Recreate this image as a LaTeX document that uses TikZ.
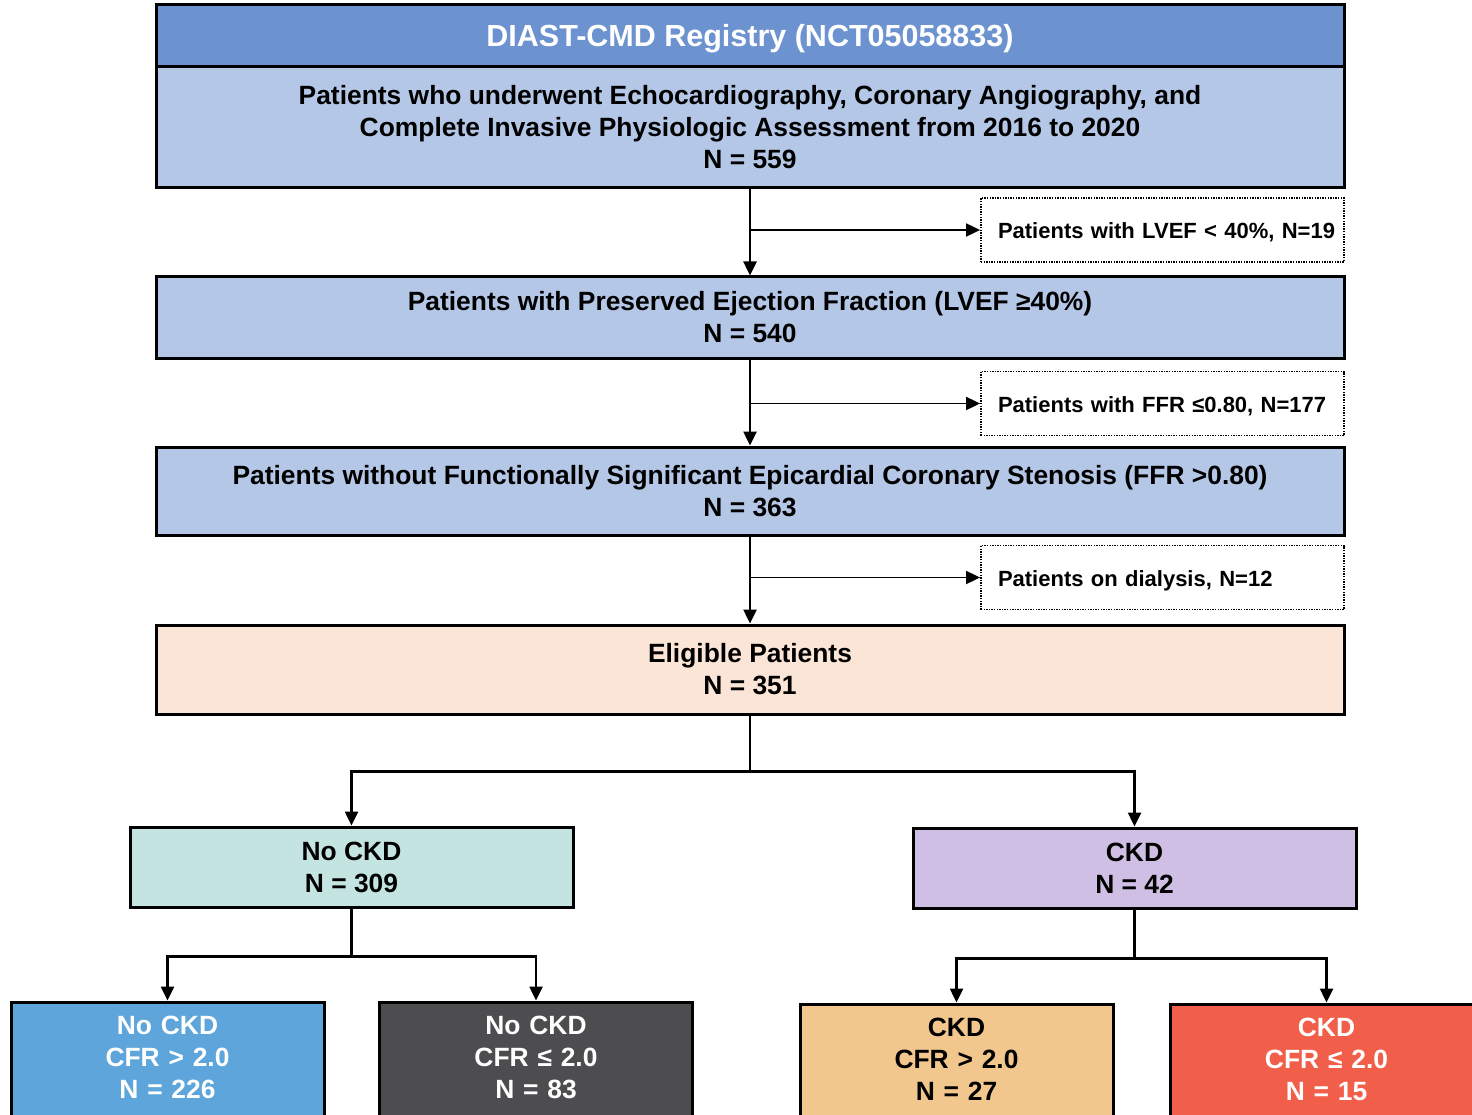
\documentclass[tikz,border=0pt]{standalone}
\usepackage{fontspec}
\setmainfont{Liberation Sans}
\usepackage{xcolor}
\usetikzlibrary{arrows.meta,positioning}
\definecolor{regblue}{RGB}{108,147,207}
\definecolor{flowblue}{RGB}{180,199,231}
\definecolor{eligpeach}{RGB}{251,229,214}
\definecolor{nockdteal}{RGB}{195,228,225}
\definecolor{ckdlilac}{RGB}{208,191,229}
\definecolor{leafblue}{RGB}{93,165,218}
\definecolor{leafgray}{RGB}{77,77,79}
\definecolor{leafsand}{RGB}{241,199,142}
\definecolor{leafred}{RGB}{241,94,74}

\begin{document}
\begin{tikzpicture}[
    x=1pt, y=-1pt,
    flowbox/.style={rectangle,draw=black,line width=3pt,fill=flowblue,inner sep=0pt,
      minimum width=1188pt,align=center,font=\fontsize{26.4}{32}\selectfont\bfseries},
    regbox/.style={flowbox,fill=regblue,text=white,text height=41.9pt,text depth=20.1pt,
      font=\fontsize{30.5}{36}\selectfont\bfseries},
    exclbox/.style={rectangle,draw=black,line width=1.8pt,dash pattern=on 1.4pt off 1.2pt,
      fill=white,inner xsep=17pt,inner ysep=0pt,text height=41pt,text depth=23pt,
      text width=329pt,align=left,font=\fontsize{22}{26}\selectfont\bfseries},
    groupbox/.style={flowbox,minimum width=443pt,minimum height=80pt},
    leafbox/.style={rectangle,draw=black,line width=3pt,inner sep=0pt,anchor=base,
      text width=313pt,align=center,text height=32.5pt,text depth=110pt,
      font=\fontsize{26.4}{32}\selectfont\bfseries},
    arrow/.style={-{Triangle[length=14pt,width=13pt]},line width=2.5pt},
    sidearrow/.style={arrow,line width=1.8pt},
    link/.style={line width=2.5pt}
  ]
  \clip (0,0) rectangle (1472,1115);
  \fill[white] (0,0) rectangle (1472,1115);

  % main column
  \node[regbox] (reg) at (750,36) {DIAST-CMD Registry (NCT05058833)};
  \node[flowbox,minimum height=121pt] (all) at (750,127.5)
    {Patients who underwent Echocardiography, Coronary Angiography, and\\
     Complete Invasive Physiologic Assessment from 2016 to 2020\\N = 559};
  \node[flowbox,minimum height=81pt] (pef) at (750,317.5)
    {Patients with Preserved Ejection Fraction (LVEF ≥40\%)\\N = 540};
  \node[flowbox,minimum height=88pt] (nosig) at (750,491)
    {Patients without Functionally Significant Epicardial Coronary Stenosis (FFR >0.80)\\N = 363};
  \node[flowbox,fill=eligpeach,minimum height=89pt] (elig) at (750,669.5)
    {Eligible Patients\\N = 351};

  % exclusions
  \node[exclbox] (exlvef) at (1162.5,230) {\mbox{Patients with LVEF < 40\%, N=19}};
  \node[exclbox] (exffr) at (1162.5,403.5) {\mbox{Patients with FFR ≤0.80, N=177}};
  \node[exclbox] (exdial) at (1162.5,577.5) {\mbox{Patients on dialysis, N=12}};

  \draw[arrow] (all.south) -- (pef.north);
  \draw[arrow] (pef.south) -- (nosig.north);
  \draw[arrow] (nosig.south) -- (elig.north);
  \draw[sidearrow] (all.south |- exlvef.west) -- (exlvef.west);
  \draw[sidearrow] (pef.south |- exffr.west) -- (exffr.west);
  \draw[sidearrow] (nosig.south |- exdial.west) -- (exdial.west);

  % CKD groups
  \node[groupbox,fill=nockdteal] (nockd) at (351.5,867) {No CKD\\N = 309};
  \node[groupbox,fill=ckdlilac] (ckd) at (1134.5,868) {CKD\\N = 42};

  \draw[link] (elig.south) -- ++(0,56) coordinate (eligsplit);
  \draw[arrow] (eligsplit) -| (nockd.north);
  \draw[arrow] (eligsplit) -| (ckd.north);

  % CFR subgroups
  \node[leafbox,fill=leafblue,text=white] (nockdhi) at (167.5,1034.5) {No CKD\\CFR > 2.0\\N = 226};
  \node[leafbox,fill=leafgray,text=white] (nockdlo) at (536,1034.5) {No CKD\\CFR ≤ 2.0\\N = 83};
  \node[leafbox,fill=leafsand] (ckdhi) at (956.5,1036.5) {CKD\\CFR > 2.0\\N = 27};
  \node[leafbox,fill=leafred,text=white] (ckdlo) at (1326.5,1036.5) {CKD\\CFR ≤ 2.0\\N = 15};

  \draw[link] (nockd.south) -- ++(0,48) coordinate (nockdsplit);
  \draw[arrow] (nockdsplit) -| (nockdhi.north);
  \draw[arrow] (nockdsplit) -| (nockdlo.north);
  \draw[link] (ckd.south) -- ++(0,49) coordinate (ckdsplit);
  \draw[arrow] (ckdsplit) -| (ckdhi.north);
  \draw[arrow] (ckdsplit) -| (ckdlo.north);
\end{tikzpicture}
\end{document}
